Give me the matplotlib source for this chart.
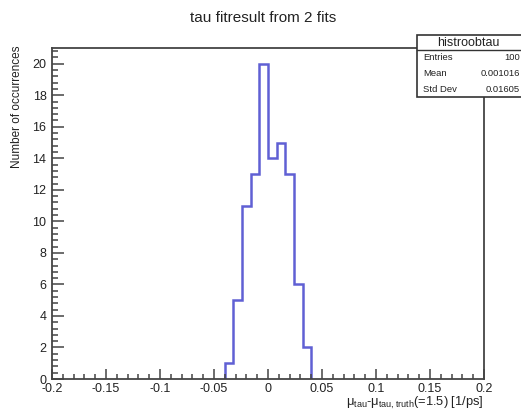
import numpy as np
import matplotlib
matplotlib.use('Agg')
import matplotlib.pyplot as plt
from matplotlib.ticker import MultipleLocator

plt.rcParams['font.family'] = ['Liberation Sans', 'DejaVu Sans']
plt.rcParams['mathtext.fontset'] = 'custom'
plt.rcParams['mathtext.rm'] = 'Liberation Sans'

# fitted tau residuals, 10 filled bins of width 0.008
bin_lo, bin_hi = -0.04, 0.04
counts = [1, 5, 11, 13, 20, 14, 15, 13, 6, 2]
x_ticks = [-0.2, -0.15, -0.1, -0.05, 0, 0.05, 0.1, 0.15, 0.2]
x_ticklabels = ['-0.2', '-0.15', '-0.1', '-0.05', '0', '0.05', '0.1', '0.15', '0.2']
y_ticks = [0, 2, 4, 6, 8, 10, 12, 14, 16, 18, 20]
stats_name = 'histroobtau'
stats_rows = [('Entries', '100'), ('Mean', '0.001016'), ('Std Dev', '0.01605')]

edges = np.linspace(bin_lo, bin_hi, len(counts) + 1)

fig = plt.figure(figsize=(5.21, 4.13), dpi=100)
ax = fig.add_axes([0.0998, 0.0823, 0.829, 0.8015])

ax.stairs(counts, edges, baseline=0, color='#6060d4', lw=1.8)

ax.set_xlim(-0.2, 0.2)
ax.set_ylim(0, 21)
ax.set_xticks(x_ticks)
ax.set_xticklabels(x_ticklabels)
ax.set_yticks(y_ticks)
ax.xaxis.set_minor_locator(MultipleLocator(0.01))
ax.yaxis.set_minor_locator(MultipleLocator(0.4))
ax.tick_params(which='both', direction='in', top=False, right=False,
               labelsize=9, color='#444444', labelcolor='#222222')
ax.tick_params(axis='x', which='major', length=7, width=1.1, pad=3)
ax.tick_params(axis='x', which='minor', length=3.5, width=1.1)
ax.tick_params(axis='y', which='major', length=8.5, width=1.1, pad=4)
ax.tick_params(axis='y', which='minor', length=4.3, width=1.1)
for sp in ax.spines.values():
    sp.set_color('#444444')
    sp.set_linewidth(1.3)

fig.text(0.505, 0.956, 'tau fitresult from 2 fits', ha='center', va='center',
         fontsize=11, color='#222222')
fig.text(0.033, 0.89, 'Number of occurrences', rotation=90, ha='center', va='top',
         fontsize=8.5, color='#222222')
fig.text(0.929, 0.024, r'$\mathrm{\mu_{tau}}$-$\mathrm{\mu_{tau,truth}}$(=1.5) [1/ps]',
         ha='right', va='center', fontsize=9.3, color='#222222')

# stats box in the upper right corner
W, H = 521.0, 413.0
bx0, bx1 = 417 / W, 1.02
by_top, by_sep, by_bot = 1 - 35 / H, 1 - 50 / H, 1 - 97 / H
box = plt.Rectangle((bx0, by_bot), bx1 - bx0, by_top - by_bot, transform=fig.transFigure,
                    facecolor='white', edgecolor='#333333', lw=1.2, zorder=5)
fig.add_artist(box)
fig.add_artist(plt.Line2D([bx0, bx1], [by_sep, by_sep], transform=fig.transFigure,
                          color='#333333', lw=1.0, zorder=6))
fig.text(468 / W, 1 - 42.5 / H, stats_name, ha='center', va='center', fontsize=9,
         color='#222222', zorder=7)
for i, (lab, val) in enumerate(stats_rows):
    yy = 1 - (58 + 15.5 * i) / H
    fig.text(423 / W, yy, lab, ha='left', va='center', fontsize=6.8, color='#222222', zorder=7)
    fig.text(520 / W, yy, val, ha='right', va='center', fontsize=6.8, color='#222222', zorder=7)

fig.savefig('out.png', dpi=100, facecolor='white')
